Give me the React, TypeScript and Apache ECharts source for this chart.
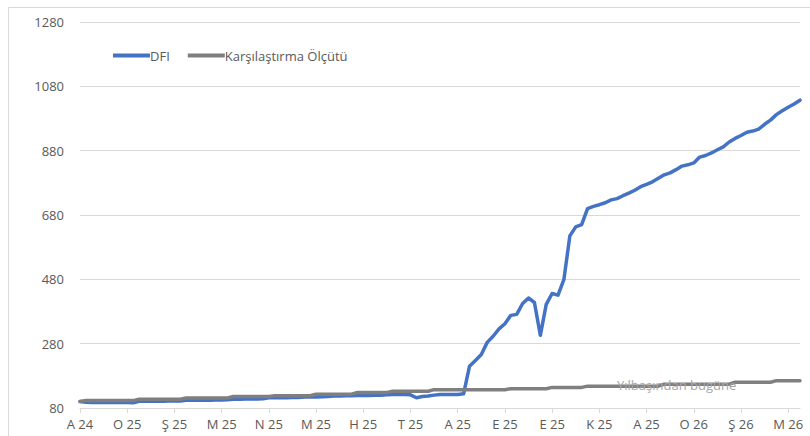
import React, { useEffect, useRef } from "react";
import * as echarts from "echarts";

const monthLabels = ["A 24", "O 25", "Ş 25", "M 25", "N 25", "M 25", "H 25", "T 25", "A 25", "E 25", "E 25", "K 25", "A 25", "O 26", "Ş 26", "M 26"];

const dfi = [
  100, 98, 97, 97, 97, 97, 97, 98, 97, 96,
  101, 101, 101, 101, 101, 102, 102, 102, 104, 104,
  104, 104, 104, 105, 105, 106, 107, 107, 108, 108,
  108, 109, 112, 112, 112, 112, 113, 113, 114, 114,
  114, 115, 116, 117, 117, 118, 118, 119, 119, 119,
  120, 120, 121, 122, 122, 122, 121, 112, 116, 117,
  120, 122, 122, 122, 122, 124, 210, 228, 246, 284,
  303, 326, 342, 368, 371, 405, 422, 408, 306, 402,
  436, 431, 480, 615, 643, 650, 700, 707, 712, 718,
  727, 731, 740, 748, 757, 768, 775, 783, 794, 805,
  811, 821, 832, 836, 842, 860, 865, 873, 883, 892,
  907, 918, 927, 937, 941, 947, 962, 975, 992, 1004,
  1015, 1025, 1037,
];

const benchmark = [
  100, 103, 103, 103, 103, 103, 103, 103, 103, 103,
  107, 107, 107, 107, 107, 107, 107, 107, 111, 111,
  111, 111, 111, 111, 111, 111, 116, 116, 116, 116,
  116, 116, 116, 118, 118, 118, 118, 118, 118, 118,
  123, 123, 123, 123, 123, 123, 123, 128, 128, 128,
  128, 128, 128, 132, 132, 132, 132, 132, 132, 132,
  137, 137, 137, 137, 137, 137, 137, 137, 137, 137,
  137, 137, 137, 140, 140, 140, 140, 140, 140, 140,
  144, 144, 144, 144, 144, 144, 148, 148, 148, 148,
  148, 148, 148, 148, 148, 148, 148, 148, 148, 154,
  154, 154, 154, 154, 154, 154, 154, 154, 154, 154,
  154, 160, 160, 160, 160, 160, 160, 160, 165, 165,
  165, 165, 165,
];

const seriesNames = ["DFI", "Karşılaştırma Ölçütü"];
const yTicks = { min: 80, max: 1280, interval: 200 };
const annotation = "Yılbaşından bugüne";
const pointsPerMonth = 8;

export default function App() {
  const ref = useRef<HTMLDivElement>(null);
  useEffect(() => {
    if (!ref.current) return;
    const chart = echarts.init(ref.current, undefined, { renderer: "svg" });
    const categories = dfi.map((_, i) => String(i));
    const font = "'Open Sans', sans-serif";
    chart.setOption({
      animation: false,
      backgroundColor: "#ffffff",
      grid: { left: 80, right: 10, top: 22, bottom: 28, containLabel: false },
      legend: {
        left: 108,
        top: 44,
        icon: "rect",
        itemWidth: 37,
        itemHeight: 4,
        itemGap: 18,
        textStyle: { color: "#595959", fontSize: 13, fontFamily: font, padding: [0, 0, 0, -5] },
        data: seriesNames,
      },
      xAxis: {
        type: "category",
        boundaryGap: false,
        data: categories,
        axisLine: { lineStyle: { color: "#d9d9d9", width: 1 } },
        axisTick: { show: true, interval: pointsPerMonth - 1, length: 5, lineStyle: { color: "#d9d9d9" } },
        axisLabel: {
          interval: pointsPerMonth - 1,
          color: "#595959",
          fontSize: 13,
          fontFamily: font,
          margin: 9,
          formatter: (_v: string, idx: number) =>
            idx % pointsPerMonth === 0 ? monthLabels[idx / pointsPerMonth] ?? "" : "",
        },
        splitLine: { show: false },
      },
      yAxis: {
        type: "value",
        min: yTicks.min,
        max: yTicks.max,
        interval: yTicks.interval,
        axisLine: { show: false },
        axisTick: { show: false },
        axisLabel: {
          color: "#595959",
          fontSize: 13,
          fontFamily: font,
          margin: 16,
          formatter: (v: number) => String(v),
        },
        splitLine: { lineStyle: { color: "#d9d9d9", width: 1 } },
      },
      series: [
        {
          name: seriesNames[0],
          type: "line",
          data: dfi,
          showSymbol: false,
          symbol: "none",
          lineStyle: { color: "#4472C4", width: 3.5, join: "round", cap: "round" },
          itemStyle: { color: "#4472C4" },
        },
        {
          name: seriesNames[1],
          type: "line",
          data: benchmark,
          showSymbol: false,
          symbol: "none",
          lineStyle: { color: "#7f7f7f", width: 3.5, cap: "round" },
          itemStyle: { color: "#7f7f7f" },
        },
      ],
      graphic: [
        {
          type: "rect",
          silent: true,
          shape: { x: 8.5, y: 7.5, width: 900, height: 500 },
          style: { fill: "none", stroke: "#d9d9d9", lineWidth: 1 },
          z: -10,
        },
        {
          type: "text",
          left: 617,
          top: 378,
          silent: true,
          style: { text: annotation, fill: "#a6a6a6", fontSize: 13, fontFamily: font },
          z: 100,
        },
      ],
    });
    return () => chart.dispose();
  }, []);
  return (
    <div
      ref={ref}
      style={{ position: "fixed", left: 0, top: 0, width: 810, height: 436, background: "#fff" }}
    />
  );
}
